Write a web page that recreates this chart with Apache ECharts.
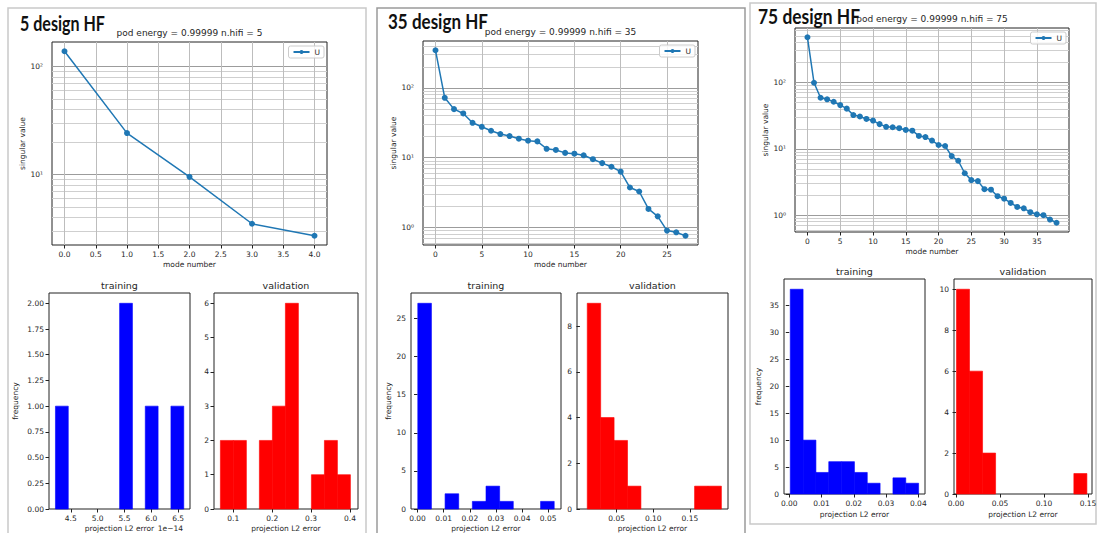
<!DOCTYPE html>
<html>
<head>
<meta charset="utf-8">
<script src="https://cdn.jsdelivr.net/npm/echarts@6/dist/echarts.min.js"></script>
<style>
  html, body { margin: 0; padding: 0; background: #ffffff; }
  #chart { width: 1098px; height: 533px; }
</style>
</head>
<body>
<div id="chart"></div>
<script>
// ---- singular value spectra (POD of the high-fidelity snapshots) ----
const modes5 = [139, 24.2, 9.5, 3.49, 2.7];
const modes35 = [346, 72, 49.6, 43, 31.6, 27.7, 24.3, 21.8, 20.4, 18.7, 17.5, 17.1, 13.4, 12.9,
  11.7, 11.4, 10.8, 9.5, 8.35, 7.4, 6.3, 3.73, 3.27, 1.84, 1.44, 0.90, 0.85, 0.76];
const modes75 = [477, 98.6, 58.6, 55.5, 51, 45.5, 40.2, 32.2, 30.6, 28.1, 26.6, 23.5, 21.4, 21.1,
  20.4, 19.2, 18.7, 15.6, 15.0, 13.3, 11.4, 11.0, 7.76, 6.6, 4.28, 3.37, 3.26, 2.46, 2.42, 1.93,
  1.77, 1.53, 1.33, 1.27, 1.11, 1.03, 1.0, 0.86, 0.77];

// ---- projection L2 error histograms: [first edge, last edge] and counts per bin ----
const train5Range = [4.215, 6.604];          // in units of 1e-14
const train5Counts = [1, 0, 0, 0, 0, 2, 0, 1, 0, 1];
const valid5Range = [0.0668, 0.4011];
const valid5Counts = [2, 2, 0, 2, 3, 6, 0, 1, 2, 1];
const train35Range = [0.0001, 0.0523];
const train35Counts = [27, 0, 2, 0, 1, 3, 1, 0, 0, 1];
const valid35Range = [0.010, 0.193];
const valid35Counts = [9, 4, 3, 1, 0, 0, 0, 0, 1, 1];
const train75Range = [0.0003, 0.0401];
const train75Counts = [38, 10, 4, 6, 6, 4, 2, 0, 3, 2];
const valid75Range = [0.0005, 0.1487];
const valid75Counts = [10, 6, 2, 0, 0, 0, 0, 0, 0, 1];

// ---- tick values ----
const modeTicks5 = [0, 0.5, 1, 1.5, 2, 2.5, 3, 3.5, 4];
const modeTicks35 = [0, 5, 10, 15, 20, 25];
const modeTicks75 = [0, 5, 10, 15, 20, 25, 30, 35];
const train5XTicks = [4.5, 5.0, 5.5, 6.0, 6.5];
const train5YTicks = [0, 0.25, 0.5, 0.75, 1.0, 1.25, 1.5, 1.75, 2.0];
const valid5XTicks = [0.1, 0.2, 0.3, 0.4];
const valid5YTicks = [0, 1, 2, 3, 4, 5, 6];
const train35XTicks = [0, 0.01, 0.02, 0.03, 0.04, 0.05];
const train35YTicks = [0, 5, 10, 15, 20, 25];
const valid35XTicks = [0.05, 0.10, 0.15];
const valid35YTicks = [0, 2, 4, 6, 8];
const train75XTicks = [0, 0.01, 0.02, 0.03, 0.04];
const train75YTicks = [0, 5, 10, 15, 20, 25, 30, 35];
const valid75XTicks = [0, 0.05, 0.10, 0.15];
const valid75YTicks = [0, 2, 4, 6, 8, 10];

const FONT = 'DejaVu Sans';
const INK = '#262626';
const tickText = { fontFamily: FONT, fontSize: 7.5, color: INK };
const tickStyle = { show: true, inside: false, length: 3.5, lineStyle: { color: '#222', width: 1 } };

const grid = [], xAxis = [], yAxis = [], series = [], legend = [], graphic = [];

function fixed(d) { return v => Number(v).toFixed(d); }

const SUP = { '-': '\u207b', '0': '\u2070', '1': '\u00b9', '2': '\u00b2', '3': '\u00b3' };
function decadeLabel(v) {
  const e = Math.log10(v);
  const r = Math.round(e);
  if (Math.abs(e - r) > 1e-6) return '';
  return '10' + String(r).split('').map(c => SUP[c]).join('');
}

function makeGrid(b) {
  return {
    left: b.left, top: b.top, width: b.width, height: b.height,
    show: true, borderColor: '#222', borderWidth: 1, backgroundColor: 'transparent',
    containLabel: false, outerBoundsMode: 'none'
  };
}

function addText(x, y, text, size, opts) {
  graphic.push(Object.assign({
    type: 'text', x: x, y: y, z: 10, silent: true,
    style: { text: text, fontFamily: FONT, fontSize: size, fill: INK, align: 'center', verticalAlign: 'middle' }
  }, opts || {}));
}

// singular value spectrum on a log axis
function addModePanel(p) {
  const g = grid.length;
  grid.push(makeGrid(p.box));
  const span = p.values.length - 1;
  const lo = Math.log10(Math.min.apply(null, p.values));
  const hi = Math.log10(Math.max.apply(null, p.values));
  const pad = (hi - lo) * 0.05;
  const yMin = Math.pow(10, lo - pad), yMax = Math.pow(10, hi + pad);

  xAxis.push({
    gridIndex: g, type: 'value', min: -0.05 * span, max: 1.05 * span,
    axisLine: { show: false }, splitLine: { show: false },
    axisTick: Object.assign({}, tickStyle, { customValues: p.xTicks }),
    axisLabel: Object.assign({}, tickText, { customValues: p.xTicks, formatter: fixed(p.xDigits), margin: 5 }),
    name: 'mode number', nameLocation: 'middle', nameGap: 15, nameTextStyle: Object.assign({}, tickText)
  });
  yAxis.push({
    gridIndex: g, type: 'log', logBase: 10, min: yMin, max: yMax,
    axisLine: { show: false }, splitLine: { show: false }, minorTick: { show: false },
    axisTick: tickStyle,
    axisLabel: Object.assign({}, tickText, { formatter: decadeLabel, margin: 9, showMinLabel: false, showMaxLabel: false }),
    name: 'singular value', nameLocation: 'middle', nameGap: p.yNameGap, nameTextStyle: Object.assign({}, tickText)
  });

  // major and minor grid lines, kept underneath the curve
  const lines = [];
  for (let e = Math.floor(lo - pad); e <= Math.ceil(hi + pad); e++) {
    for (let k = 1; k <= 9; k++) {
      const v = k * Math.pow(10, e);
      if (v > yMin && v < yMax) {
        lines.push({ yAxis: v, lineStyle: { color: k === 1 ? '#9c9c9c' : '#cfcfcf', width: 1, type: 'solid' } });
      }
    }
  }
  p.xTicks.forEach(v => lines.push({ xAxis: v, lineStyle: { color: '#bdbdbd', width: 1, type: 'solid' } }));

  series.push({
    type: 'line', name: 'gridlines', xAxisIndex: g, yAxisIndex: g, data: [], z: 1, silent: true,
    markLine: { z: 1, silent: true, symbol: ['none', 'none'], label: { show: false }, animation: false,
      emphasis: { disabled: true }, data: lines }
  });
  series.push({
    type: 'line', name: 'U', xAxisIndex: g, yAxisIndex: g, z: 6, clip: false, animation: false,
    data: p.values.map((v, i) => [i, v]),
    symbol: 'circle', symbolSize: 6, showSymbol: true, showAllSymbol: true,
    lineStyle: { color: '#1f77b4', width: 1.5 }, itemStyle: { color: '#1f77b4' }
  });
  legend.push({
    data: ['U'], right: 1098 - (p.box.left + p.box.width) + 3, top: p.box.top + 4,
    orient: 'vertical', itemWidth: 16, itemHeight: 5, itemGap: 2, padding: [2, 4, 2, 4],
    borderColor: '#cccccc', borderWidth: 1, borderRadius: 2, backgroundColor: 'rgba(255,255,255,0.85)',
    selectedMode: false, z: 8, textStyle: Object.assign({}, tickText)
  });
  addText(p.box.left + p.box.width / 2, p.box.top - 9, p.title, 9);
}

// histogram of projection errors drawn bin by bin
function addHistPanel(p) {
  const g = grid.length;
  grid.push(makeGrid(p.box));
  const w = (p.range[1] - p.range[0]) / p.counts.length;
  const bins = p.counts.map((c, i) => [p.range[0] + i * w, p.range[0] + (i + 1) * w, c]);
  const top = Math.max.apply(null, p.counts) * 1.05;

  xAxis.push({
    gridIndex: g, type: 'value', min: p.xLim[0], max: p.xLim[1],
    axisLine: { show: false }, splitLine: { show: false },
    axisTick: Object.assign({}, tickStyle, { customValues: p.xTicks }),
    axisLabel: Object.assign({}, tickText, { customValues: p.xTicks, formatter: fixed(p.xDigits), margin: 5 }),
    name: 'projection L2 error', nameLocation: 'middle', nameGap: p.xNameGap, nameTextStyle: Object.assign({}, tickText)
  });
  yAxis.push({
    gridIndex: g, type: 'value', min: 0, max: top,
    axisLine: { show: false }, splitLine: { show: false },
    axisTick: Object.assign({}, tickStyle, { customValues: p.yTicks }),
    axisLabel: Object.assign({}, tickText, { customValues: p.yTicks, formatter: fixed(p.yDigits), margin: 5 }),
    name: p.yName || '', nameLocation: 'middle', nameGap: p.yNameGap || 20, nameTextStyle: Object.assign({}, tickText)
  });
  series.push({
    type: 'custom', name: p.title, xAxisIndex: g, yAxisIndex: g, data: bins, animation: false,
    encode: { x: [0, 1], y: 2 },
    renderItem: function (params, api) {
      const c = api.value(2);
      if (!c) return null;
      const a = api.coord([api.value(0), 0]);
      const b = api.coord([api.value(1), c]);
      return {
        type: 'rect',
        shape: { x: a[0], y: b[1], width: b[0] - a[0], height: a[1] - b[1] },
        style: { fill: p.color, stroke: p.color, lineWidth: 0.6 }
      };
    }
  });
  addText(p.box.left + p.box.width / 2, p.box.top - 8, p.title, 9.5);
}

// ---- three screenshots side by side ----
addModePanel({ values: modes5, xTicks: modeTicks5, xDigits: 1, yNameGap: 20,
  box: { left: 52, top: 42, width: 275, height: 203 }, title: 'pod energy = 0.99999 n.hifi = 5' });
addModePanel({ values: modes35, xTicks: modeTicks35, xDigits: 0, yNameGap: 24,
  box: { left: 423, top: 41, width: 275, height: 204 }, title: 'pod energy = 0.99999 n.hifi = 35' });
addModePanel({ values: modes75, xTicks: modeTicks75, xDigits: 0, yNameGap: 25,
  box: { left: 795, top: 28, width: 274, height: 204 }, title: 'pod energy = 0.99999 n.hifi = 75' });

addHistPanel({ title: 'training', color: '#0000ff', range: train5Range, counts: train5Counts,
  xLim: [4.095, 6.72], xTicks: train5XTicks, xDigits: 1, yTicks: train5YTicks, yDigits: 2,
  yName: 'frequency', yNameGap: 30, xNameGap: 15, box: { left: 49, top: 293, width: 141, height: 216 } });
addHistPanel({ title: 'validation', color: '#ff0000', range: valid5Range, counts: valid5Counts,
  xLim: [0.0504, 0.4206], xTicks: valid5XTicks, xDigits: 1, yTicks: valid5YTicks, yDigits: 0,
  xNameGap: 15, box: { left: 214, top: 293, width: 144, height: 216 } });
addHistPanel({ title: 'training', color: '#0000ff', range: train35Range, counts: train35Counts,
  xLim: [-0.0025, 0.0549], xTicks: train35XTicks, xDigits: 2, yTicks: train35YTicks, yDigits: 0,
  yName: 'frequency', yNameGap: 19, xNameGap: 15, box: { left: 411, top: 293, width: 150, height: 216 } });
addHistPanel({ title: 'validation', color: '#ff0000', range: valid35Range, counts: valid35Counts,
  xLim: [-0.004, 0.202], xTicks: valid35XTicks, xDigits: 2, yTicks: valid35YTicks, yDigits: 0,
  xNameGap: 15, box: { left: 577, top: 293, width: 151, height: 216 } });
addHistPanel({ title: 'training', color: '#0000ff', range: train75Range, counts: train75Counts,
  xLim: [-0.00164, 0.04208], xTicks: train75XTicks, xDigits: 2, yTicks: train75YTicks, yDigits: 0,
  yName: 'frequency', yNameGap: 22, xNameGap: 16, box: { left: 784, top: 279, width: 141, height: 215 } });
addHistPanel({ title: 'validation', color: '#ff0000', range: valid75Range, counts: valid75Counts,
  xLim: [-0.0023, 0.1545], xTicks: valid75XTicks, xDigits: 2, yTicks: valid75YTicks, yDigits: 0,
  xNameGap: 16, box: { left: 954, top: 279, width: 138, height: 215 } });

// scale factor of the first training histogram
addText(183, 528, '1e\u221214', 7.5, { style: { text: '1e\u221214', fontFamily: FONT, fontSize: 7.5, fill: INK, align: 'right', verticalAlign: 'middle' } });

// frames around the three figures
[[8, 8, 358, 540, '#c9c9c9'], [377, 8, 368, 540, '#9a9a9a'], [750, 3, 346, 521, '#c9c9c9']].forEach(f => {
  graphic.push({ type: 'rect', z: 0, silent: true, shape: { x: f[0], y: f[1], width: f[2], height: f[3] },
    style: { fill: 'none', stroke: f[4], lineWidth: 1.5 } });
});

// headline of each figure, fitted to its width
const measure = document.createElement('canvas').getContext('2d');
const HEAD_FONT = 'bold 21px Lato';
measure.font = HEAD_FONT;
[['5 design HF', 20, 30, 85], ['35 design HF', 388, 28, 100], ['75 design HF', 758, 23, 102]].forEach(h => {
  const s = h[3] / measure.measureText(h[0]).width;
  graphic.push({ type: 'text', x: h[1], y: h[2] - 7, scaleX: s, z: 10, silent: true,
    style: { text: h[0], font: HEAD_FONT, fill: '#111', align: 'left', verticalAlign: 'middle' } });
});

const chart = echarts.init(document.getElementById('chart'), null, { renderer: 'svg', width: 1098, height: 533 });
chart.setOption({
  animation: false,
  backgroundColor: '#ffffff',
  grid: grid, xAxis: xAxis, yAxis: yAxis, series: series, legend: legend, graphic: graphic
});
</script>
</body>
</html>
